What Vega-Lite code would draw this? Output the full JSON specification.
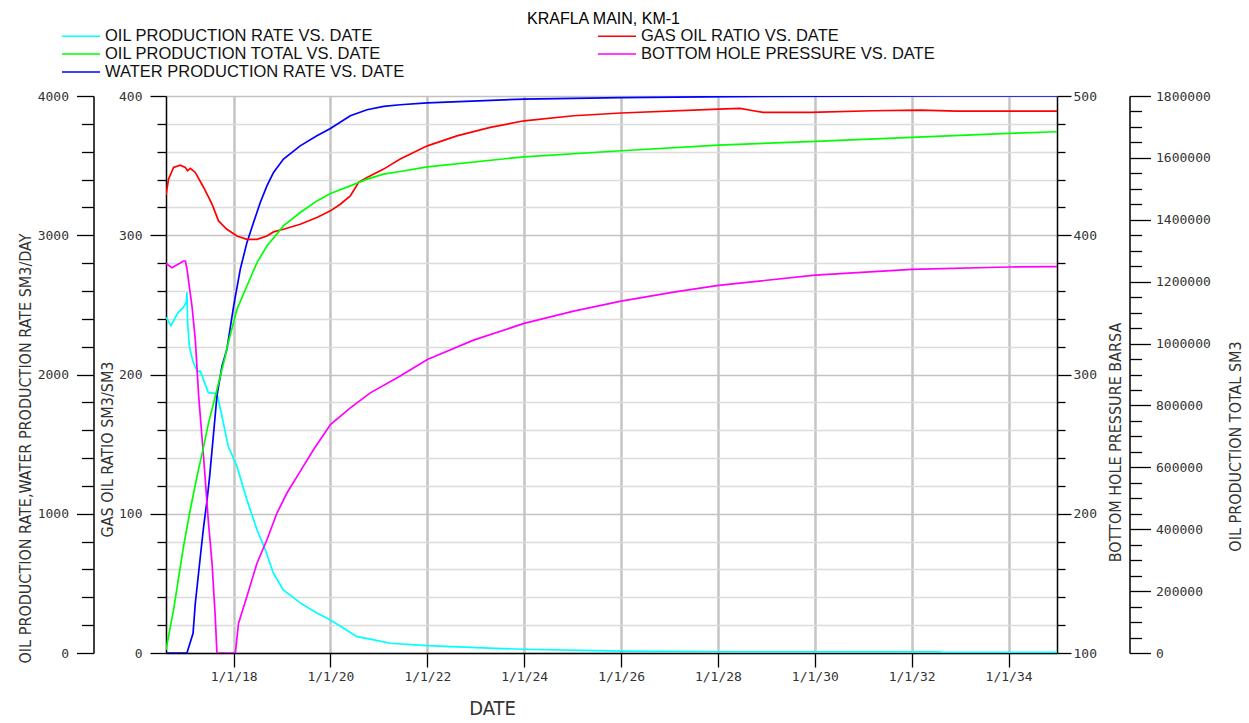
{
  "$schema": "https://vega.github.io/schema/vega-lite/v6.json",
  "width": 891,
  "height": 557,
  "autosize": {"type": "none"},
  "padding": {"left": 166, "top": 96, "right": 192, "bottom": 70},
  "background": "white",
  "title": {"text": "KRAFLA MAIN, KM-1", "anchor": "middle", "frame": "group", "font": "Liberation Sans", "fontSize": 16, "fontWeight": "normal", "color": "#000", "offset": 0, "dy": -1, "dx": -8},
  "data": {"values": [
    {"date": "2016-08-09", "series": "OIL PRODUCTION RATE VS. DATE", "value": 2410},
    {"date": "2016-09-15", "series": "OIL PRODUCTION RATE VS. DATE", "value": 2350},
    {"date": "2016-11-09", "series": "OIL PRODUCTION RATE VS. DATE", "value": 2446},
    {"date": "2016-12-17", "series": "OIL PRODUCTION RATE VS. DATE", "value": 2480},
    {"date": "2017-01-09", "series": "OIL PRODUCTION RATE VS. DATE", "value": 2520},
    {"date": "2017-01-14", "series": "OIL PRODUCTION RATE VS. DATE", "value": 2590},
    {"date": "2017-01-19", "series": "OIL PRODUCTION RATE VS. DATE", "value": 2380},
    {"date": "2017-02-01", "series": "OIL PRODUCTION RATE VS. DATE", "value": 2200},
    {"date": "2017-03-03", "series": "OIL PRODUCTION RATE VS. DATE", "value": 2086},
    {"date": "2017-04-03", "series": "OIL PRODUCTION RATE VS. DATE", "value": 2022},
    {"date": "2017-04-25", "series": "OIL PRODUCTION RATE VS. DATE", "value": 2024},
    {"date": "2017-06-24", "series": "OIL PRODUCTION RATE VS. DATE", "value": 1870},
    {"date": "2017-08-28", "series": "OIL PRODUCTION RATE VS. DATE", "value": 1863},
    {"date": "2017-10-05", "series": "OIL PRODUCTION RATE VS. DATE", "value": 1700},
    {"date": "2017-11-21", "series": "OIL PRODUCTION RATE VS. DATE", "value": 1484},
    {"date": "2018-01-26", "series": "OIL PRODUCTION RATE VS. DATE", "value": 1340},
    {"date": "2018-04-11", "series": "OIL PRODUCTION RATE VS. DATE", "value": 1100},
    {"date": "2018-06-26", "series": "OIL PRODUCTION RATE VS. DATE", "value": 885},
    {"date": "2018-08-28", "series": "OIL PRODUCTION RATE VS. DATE", "value": 741},
    {"date": "2018-10-27", "series": "OIL PRODUCTION RATE VS. DATE", "value": 575},
    {"date": "2019-01-10", "series": "OIL PRODUCTION RATE VS. DATE", "value": 453},
    {"date": "2019-05-18", "series": "OIL PRODUCTION RATE VS. DATE", "value": 360},
    {"date": "2019-09-21", "series": "OIL PRODUCTION RATE VS. DATE", "value": 288},
    {"date": "2020-01-01", "series": "OIL PRODUCTION RATE VS. DATE", "value": 237},
    {"date": "2020-04-07", "series": "OIL PRODUCTION RATE VS. DATE", "value": 180},
    {"date": "2020-07-19", "series": "OIL PRODUCTION RATE VS. DATE", "value": 117},
    {"date": "2020-10-28", "series": "OIL PRODUCTION RATE VS. DATE", "value": 100},
    {"date": "2021-03-27", "series": "OIL PRODUCTION RATE VS. DATE", "value": 70},
    {"date": "2022-01-01", "series": "OIL PRODUCTION RATE VS. DATE", "value": 53},
    {"date": "2023-01-01", "series": "OIL PRODUCTION RATE VS. DATE", "value": 38},
    {"date": "2024-01-01", "series": "OIL PRODUCTION RATE VS. DATE", "value": 27},
    {"date": "2026-01-01", "series": "OIL PRODUCTION RATE VS. DATE", "value": 14},
    {"date": "2028-04-03", "series": "OIL PRODUCTION RATE VS. DATE", "value": 9},
    {"date": "2032-08-03", "series": "OIL PRODUCTION RATE VS. DATE", "value": 8},
    {"date": "2032-08-10", "series": "OIL PRODUCTION RATE VS. DATE", "value": 4},
    {"date": "2035-01-01", "series": "OIL PRODUCTION RATE VS. DATE", "value": 4},

    {"date": "2016-08-09", "series": "WATER PRODUCTION RATE VS. DATE", "value": 0},
    {"date": "2017-01-14", "series": "WATER PRODUCTION RATE VS. DATE", "value": 0},
    {"date": "2017-03-01", "series": "WATER PRODUCTION RATE VS. DATE", "value": 142},
    {"date": "2017-03-18", "series": "WATER PRODUCTION RATE VS. DATE", "value": 357},
    {"date": "2017-04-25", "series": "WATER PRODUCTION RATE VS. DATE", "value": 693},
    {"date": "2017-05-20", "series": "WATER PRODUCTION RATE VS. DATE", "value": 909},
    {"date": "2017-06-15", "series": "WATER PRODUCTION RATE VS. DATE", "value": 1101},
    {"date": "2017-07-04", "series": "WATER PRODUCTION RATE VS. DATE", "value": 1268},
    {"date": "2017-08-03", "series": "WATER PRODUCTION RATE VS. DATE", "value": 1580},
    {"date": "2017-08-28", "series": "WATER PRODUCTION RATE VS. DATE", "value": 1844},
    {"date": "2017-10-05", "series": "WATER PRODUCTION RATE VS. DATE", "value": 2060},
    {"date": "2017-11-11", "series": "WATER PRODUCTION RATE VS. DATE", "value": 2180},
    {"date": "2018-01-01", "series": "WATER PRODUCTION RATE VS. DATE", "value": 2491},
    {"date": "2018-02-20", "series": "WATER PRODUCTION RATE VS. DATE", "value": 2755},
    {"date": "2018-04-11", "series": "WATER PRODUCTION RATE VS. DATE", "value": 2947},
    {"date": "2018-05-31", "series": "WATER PRODUCTION RATE VS. DATE", "value": 3091},
    {"date": "2018-07-21", "series": "WATER PRODUCTION RATE VS. DATE", "value": 3235},
    {"date": "2018-09-09", "series": "WATER PRODUCTION RATE VS. DATE", "value": 3355},
    {"date": "2018-10-29", "series": "WATER PRODUCTION RATE VS. DATE", "value": 3451},
    {"date": "2019-01-12", "series": "WATER PRODUCTION RATE VS. DATE", "value": 3547},
    {"date": "2019-05-18", "series": "WATER PRODUCTION RATE VS. DATE", "value": 3642},
    {"date": "2019-09-21", "series": "WATER PRODUCTION RATE VS. DATE", "value": 3714},
    {"date": "2020-01-01", "series": "WATER PRODUCTION RATE VS. DATE", "value": 3767},
    {"date": "2020-05-30", "series": "WATER PRODUCTION RATE VS. DATE", "value": 3858},
    {"date": "2020-10-03", "series": "WATER PRODUCTION RATE VS. DATE", "value": 3901},
    {"date": "2021-02-05", "series": "WATER PRODUCTION RATE VS. DATE", "value": 3926},
    {"date": "2021-06-10", "series": "WATER PRODUCTION RATE VS. DATE", "value": 3937},
    {"date": "2022-01-01", "series": "WATER PRODUCTION RATE VS. DATE", "value": 3950},
    {"date": "2024-01-01", "series": "WATER PRODUCTION RATE VS. DATE", "value": 3978},
    {"date": "2026-01-01", "series": "WATER PRODUCTION RATE VS. DATE", "value": 3988},
    {"date": "2028-04-03", "series": "WATER PRODUCTION RATE VS. DATE", "value": 3996},
    {"date": "2032-08-03", "series": "WATER PRODUCTION RATE VS. DATE", "value": 4000},
    {"date": "2035-01-01", "series": "WATER PRODUCTION RATE VS. DATE", "value": 4000},

    {"date": "2016-08-09", "series": "GAS OIL RATIO VS. DATE", "value": 328.8},
    {"date": "2016-08-28", "series": "GAS OIL RATIO VS. DATE", "value": 340.3},
    {"date": "2016-10-05", "series": "GAS OIL RATIO VS. DATE", "value": 348.7},
    {"date": "2016-11-24", "series": "GAS OIL RATIO VS. DATE", "value": 350.3},
    {"date": "2017-01-02", "series": "GAS OIL RATIO VS. DATE", "value": 348.7},
    {"date": "2017-01-19", "series": "GAS OIL RATIO VS. DATE", "value": 346.3},
    {"date": "2017-02-08", "series": "GAS OIL RATIO VS. DATE", "value": 348.0},
    {"date": "2017-03-18", "series": "GAS OIL RATIO VS. DATE", "value": 345.1},
    {"date": "2017-05-20", "series": "GAS OIL RATIO VS. DATE", "value": 334.3},
    {"date": "2017-07-22", "series": "GAS OIL RATIO VS. DATE", "value": 322.3},
    {"date": "2017-09-09", "series": "GAS OIL RATIO VS. DATE", "value": 310.3},
    {"date": "2017-11-11", "series": "GAS OIL RATIO VS. DATE", "value": 304.3},
    {"date": "2018-01-26", "series": "GAS OIL RATIO VS. DATE", "value": 299.5},
    {"date": "2018-04-11", "series": "GAS OIL RATIO VS. DATE", "value": 297.1},
    {"date": "2018-06-26", "series": "GAS OIL RATIO VS. DATE", "value": 297.1},
    {"date": "2018-09-09", "series": "GAS OIL RATIO VS. DATE", "value": 299.5},
    {"date": "2018-10-29", "series": "GAS OIL RATIO VS. DATE", "value": 302.4},
    {"date": "2019-01-12", "series": "GAS OIL RATIO VS. DATE", "value": 304.3},
    {"date": "2019-05-18", "series": "GAS OIL RATIO VS. DATE", "value": 307.9},
    {"date": "2019-09-21", "series": "GAS OIL RATIO VS. DATE", "value": 312.7},
    {"date": "2020-01-01", "series": "GAS OIL RATIO VS. DATE", "value": 317.5},
    {"date": "2020-03-15", "series": "GAS OIL RATIO VS. DATE", "value": 322.3},
    {"date": "2020-05-30", "series": "GAS OIL RATIO VS. DATE", "value": 328.3},
    {"date": "2020-07-31", "series": "GAS OIL RATIO VS. DATE", "value": 337.9},
    {"date": "2020-10-03", "series": "GAS OIL RATIO VS. DATE", "value": 341.5},
    {"date": "2021-02-05", "series": "GAS OIL RATIO VS. DATE", "value": 347.5},
    {"date": "2021-06-10", "series": "GAS OIL RATIO VS. DATE", "value": 354.7},
    {"date": "2022-01-01", "series": "GAS OIL RATIO VS. DATE", "value": 364.2},
    {"date": "2022-08-12", "series": "GAS OIL RATIO VS. DATE", "value": 371.4},
    {"date": "2023-04-20", "series": "GAS OIL RATIO VS. DATE", "value": 377.5},
    {"date": "2024-01-01", "series": "GAS OIL RATIO VS. DATE", "value": 382.2},
    {"date": "2025-01-08", "series": "GAS OIL RATIO VS. DATE", "value": 385.8},
    {"date": "2026-01-01", "series": "GAS OIL RATIO VS. DATE", "value": 387.8},
    {"date": "2028-01-05", "series": "GAS OIL RATIO VS. DATE", "value": 390.6},
    {"date": "2028-06-17", "series": "GAS OIL RATIO VS. DATE", "value": 391.1},
    {"date": "2028-09-23", "series": "GAS OIL RATIO VS. DATE", "value": 389.4},
    {"date": "2028-12-08", "series": "GAS OIL RATIO VS. DATE", "value": 388.2},
    {"date": "2029-11-27", "series": "GAS OIL RATIO VS. DATE", "value": 388.2},
    {"date": "2031-03-17", "series": "GAS OIL RATIO VS. DATE", "value": 389.4},
    {"date": "2032-03-06", "series": "GAS OIL RATIO VS. DATE", "value": 389.9},
    {"date": "2032-12-07", "series": "GAS OIL RATIO VS. DATE", "value": 389.2},
    {"date": "2035-01-01", "series": "GAS OIL RATIO VS. DATE", "value": 389.2},

    {"date": "2016-08-09", "series": "BOTTOM HOLE PRESSURE VS. DATE", "value": 379.8},
    {"date": "2016-09-23", "series": "BOTTOM HOLE PRESSURE VS. DATE", "value": 376.7},
    {"date": "2016-12-19", "series": "BOTTOM HOLE PRESSURE VS. DATE", "value": 381.5},
    {"date": "2017-01-02", "series": "BOTTOM HOLE PRESSURE VS. DATE", "value": 381.5},
    {"date": "2017-01-14", "series": "BOTTOM HOLE PRESSURE VS. DATE", "value": 376.0},
    {"date": "2017-02-21", "series": "BOTTOM HOLE PRESSURE VS. DATE", "value": 349.0},
    {"date": "2017-03-18", "series": "BOTTOM HOLE PRESSURE VS. DATE", "value": 325.0},
    {"date": "2017-04-12", "series": "BOTTOM HOLE PRESSURE VS. DATE", "value": 285.0},
    {"date": "2017-05-20", "series": "BOTTOM HOLE PRESSURE VS. DATE", "value": 240.0},
    {"date": "2017-06-24", "series": "BOTTOM HOLE PRESSURE VS. DATE", "value": 195.0},
    {"date": "2017-07-22", "series": "BOTTOM HOLE PRESSURE VS. DATE", "value": 164.7},
    {"date": "2017-08-16", "series": "BOTTOM HOLE PRESSURE VS. DATE", "value": 125.0},
    {"date": "2017-08-28", "series": "BOTTOM HOLE PRESSURE VS. DATE", "value": 100.0},
    {"date": "2018-01-14", "series": "BOTTOM HOLE PRESSURE VS. DATE", "value": 100.0},
    {"date": "2018-02-07", "series": "BOTTOM HOLE PRESSURE VS. DATE", "value": 121.4},
    {"date": "2018-04-11", "series": "BOTTOM HOLE PRESSURE VS. DATE", "value": 140.5},
    {"date": "2018-06-26", "series": "BOTTOM HOLE PRESSURE VS. DATE", "value": 164.5},
    {"date": "2018-09-09", "series": "BOTTOM HOLE PRESSURE VS. DATE", "value": 181.3},
    {"date": "2018-11-24", "series": "BOTTOM HOLE PRESSURE VS. DATE", "value": 200.5},
    {"date": "2019-02-07", "series": "BOTTOM HOLE PRESSURE VS. DATE", "value": 214.9},
    {"date": "2019-05-18", "series": "BOTTOM HOLE PRESSURE VS. DATE", "value": 230.4},
    {"date": "2019-08-26", "series": "BOTTOM HOLE PRESSURE VS. DATE", "value": 246.0},
    {"date": "2020-01-01", "series": "BOTTOM HOLE PRESSURE VS. DATE", "value": 264.0},
    {"date": "2020-05-30", "series": "BOTTOM HOLE PRESSURE VS. DATE", "value": 276.0},
    {"date": "2020-10-28", "series": "BOTTOM HOLE PRESSURE VS. DATE", "value": 286.8},
    {"date": "2021-06-10", "series": "BOTTOM HOLE PRESSURE VS. DATE", "value": 299.0},
    {"date": "2022-01-01", "series": "BOTTOM HOLE PRESSURE VS. DATE", "value": 310.8},
    {"date": "2022-12-15", "series": "BOTTOM HOLE PRESSURE VS. DATE", "value": 324.7},
    {"date": "2024-01-01", "series": "BOTTOM HOLE PRESSURE VS. DATE", "value": 336.7},
    {"date": "2025-01-08", "series": "BOTTOM HOLE PRESSURE VS. DATE", "value": 345.5},
    {"date": "2026-01-01", "series": "BOTTOM HOLE PRESSURE VS. DATE", "value": 352.7},
    {"date": "2027-02-01", "series": "BOTTOM HOLE PRESSURE VS. DATE", "value": 359.2},
    {"date": "2028-01-05", "series": "BOTTOM HOLE PRESSURE VS. DATE", "value": 364.0},
    {"date": "2030-01-04", "series": "BOTTOM HOLE PRESSURE VS. DATE", "value": 371.4},
    {"date": "2032-01-02", "series": "BOTTOM HOLE PRESSURE VS. DATE", "value": 375.5},
    {"date": "2034-01-01", "series": "BOTTOM HOLE PRESSURE VS. DATE", "value": 377.2},
    {"date": "2035-01-01", "series": "BOTTOM HOLE PRESSURE VS. DATE", "value": 377.5},

    {"date": "2016-08-09", "series": "OIL PRODUCTION TOTAL VS. DATE", "value": 10000},
    {"date": "2016-10-05", "series": "OIL PRODUCTION TOTAL VS. DATE", "value": 139200},
    {"date": "2016-12-19", "series": "OIL PRODUCTION TOTAL VS. DATE", "value": 344100},
    {"date": "2017-02-08", "series": "OIL PRODUCTION TOTAL VS. DATE", "value": 463000},
    {"date": "2017-03-31", "series": "OIL PRODUCTION TOTAL VS. DATE", "value": 570800},
    {"date": "2017-05-20", "series": "OIL PRODUCTION TOTAL VS. DATE", "value": 667900},
    {"date": "2017-06-26", "series": "OIL PRODUCTION TOTAL VS. DATE", "value": 743600},
    {"date": "2017-08-16", "series": "OIL PRODUCTION TOTAL VS. DATE", "value": 829800},
    {"date": "2017-09-22", "series": "OIL PRODUCTION TOTAL VS. DATE", "value": 894500},
    {"date": "2017-10-30", "series": "OIL PRODUCTION TOTAL VS. DATE", "value": 959200},
    {"date": "2017-11-11", "series": "OIL PRODUCTION TOTAL VS. DATE", "value": 985000},
    {"date": "2018-01-26", "series": "OIL PRODUCTION TOTAL VS. DATE", "value": 1110400},
    {"date": "2018-04-11", "series": "OIL PRODUCTION TOTAL VS. DATE", "value": 1185900},
    {"date": "2018-06-26", "series": "OIL PRODUCTION TOTAL VS. DATE", "value": 1261600},
    {"date": "2018-09-09", "series": "OIL PRODUCTION TOTAL VS. DATE", "value": 1315400},
    {"date": "2019-01-12", "series": "OIL PRODUCTION TOTAL VS. DATE", "value": 1380100},
    {"date": "2019-05-18", "series": "OIL PRODUCTION TOTAL VS. DATE", "value": 1423500},
    {"date": "2019-09-21", "series": "OIL PRODUCTION TOTAL VS. DATE", "value": 1461000},
    {"date": "2020-01-01", "series": "OIL PRODUCTION TOTAL VS. DATE", "value": 1485000},
    {"date": "2020-05-30", "series": "OIL PRODUCTION TOTAL VS. DATE", "value": 1509600},
    {"date": "2020-10-03", "series": "OIL PRODUCTION TOTAL VS. DATE", "value": 1531300},
    {"date": "2021-02-05", "series": "OIL PRODUCTION TOTAL VS. DATE", "value": 1547500},
    {"date": "2021-06-10", "series": "OIL PRODUCTION TOTAL VS. DATE", "value": 1556000},
    {"date": "2022-01-01", "series": "OIL PRODUCTION TOTAL VS. DATE", "value": 1571200},
    {"date": "2024-01-01", "series": "OIL PRODUCTION TOTAL VS. DATE", "value": 1603500},
    {"date": "2026-01-01", "series": "OIL PRODUCTION TOTAL VS. DATE", "value": 1623000},
    {"date": "2028-01-05", "series": "OIL PRODUCTION TOTAL VS. DATE", "value": 1641400},
    {"date": "2030-01-04", "series": "OIL PRODUCTION TOTAL VS. DATE", "value": 1653300},
    {"date": "2032-01-02", "series": "OIL PRODUCTION TOTAL VS. DATE", "value": 1666300},
    {"date": "2034-01-01", "series": "OIL PRODUCTION TOTAL VS. DATE", "value": 1679200},
    {"date": "2035-01-01", "series": "OIL PRODUCTION TOTAL VS. DATE", "value": 1684400}
  ]},
  "encoding": {
    "x": {
      "field": "date", "type": "temporal",
      "scale": {"type": "utc", "domain": [{"year": 2016, "month": 8, "date": 9, "utc": true}, {"year": 2035, "month": 1, "date": 1, "utc": true}]},
      "axis": {
        "values": [
          {"year": 2018, "month": 1, "date": 1, "utc": true},
          {"year": 2020, "month": 1, "date": 1, "utc": true},
          {"year": 2022, "month": 1, "date": 1, "utc": true},
          {"year": 2024, "month": 1, "date": 1, "utc": true},
          {"year": 2026, "month": 1, "date": 1, "utc": true},
          {"year": 2028, "month": 1, "date": 1, "utc": true},
          {"year": 2030, "month": 1, "date": 1, "utc": true},
          {"year": 2032, "month": 1, "date": 1, "utc": true},
          {"year": 2034, "month": 1, "date": 1, "utc": true}
        ],
        "format": "%-m/%-d/%y",
        "grid": true, "gridColor": "#c4c4c4", "gridWidth": 2.5,
        "tickSize": 14, "labelPadding": 3,
        "title": "DATE", "titleX": 326, "titleY": 55, "titleAlign": "center", "titleBaseline": "middle", "titleFontSize": 20
      }
    },
    "color": {
      "field": "series", "type": "nominal",
      "scale": {
        "domain": ["OIL PRODUCTION RATE VS. DATE", "OIL PRODUCTION TOTAL VS. DATE", "WATER PRODUCTION RATE VS. DATE", "GAS OIL RATIO VS. DATE", "BOTTOM HOLE PRESSURE VS. DATE"],
        "range": ["#00ffff", "#00ff00", "#0000ff", "#ff0000", "#ff00ff"]
      },
      "legend": {
        "title": null, "orient": "none", "legendX": -105, "legendY": -68, "columns": 2,
        "symbolType": "stroke", "symbolSize": 1444, "symbolStrokeWidth": 1.5,
        "labelFont": "Liberation Sans", "labelFontSize": 16.5, "labelColor": "#111", "labelLimit": 0, "labelOffset": 4,
        "columnPadding": 192, "rowPadding": 1, "clipHeight": 16, "padding": 0
      }
    }
  },
  "layer": [
    {
      "transform": [{"filter": "datum.series === 'OIL PRODUCTION RATE VS. DATE' || datum.series === 'WATER PRODUCTION RATE VS. DATE'"}],
      "mark": {"type": "line", "strokeWidth": 1.7, "clip": true},
      "encoding": {
        "y": {
          "field": "value", "type": "quantitative",
          "scale": {"domain": [0, 4000], "nice": false, "zero": false},
          "axis": {
            "orient": "left", "offset": 72.5,
            "values": [0, 200, 400, 600, 800, 1000, 1200, 1400, 1600, 1800, 2000, 2200, 2400, 2600, 2800, 3000, 3200, 3400, 3600, 3800, 4000],
            "format": "d", "labelExpr": "datum.value % 1000 === 0 ? datum.label : ''",
            "tickSize": {"condition": {"test": "datum.value % 1000 === 0", "value": 17}, "value": 12},
            "labelPadding": 8, "grid": false,
            "title": "OIL PRODUCTION RATE,WATER PRODUCTION RATE  SM3/DAY",
            "titleX": -68, "titleY": 352, "titleAngle": 270, "titleAlign": "center", "titleBaseline": "middle"
          }
        }
      }
    },
    {
      "transform": [{"filter": "datum.series === 'GAS OIL RATIO VS. DATE'"}],
      "mark": {"type": "line", "strokeWidth": 1.7, "clip": true},
      "encoding": {
        "y": {
          "field": "value", "type": "quantitative",
          "scale": {"domain": [0, 400], "nice": false, "zero": false},
          "axis": {
            "orient": "left", "offset": 0,
            "values": [0, 20, 40, 60, 80, 100, 120, 140, 160, 180, 200, 220, 240, 260, 280, 300, 320, 340, 360, 380, 400],
            "format": "d", "labelExpr": "datum.value % 100 === 0 ? datum.label : ''",
            "tickSize": {"condition": {"test": "datum.value % 100 === 0", "value": 16}, "value": 9},
            "labelPadding": 8,
            "grid": true,
            "gridColor": {"condition": {"test": "datum.value % 100 === 0", "value": "#c2c2c2"}, "value": "#dcdcdc"},
            "gridWidth": 1.5,
            "title": "GAS OIL RATIO  SM3/SM3",
            "titleX": -59, "titleY": 353, "titleAngle": 270, "titleAlign": "center", "titleBaseline": "middle"
          }
        }
      }
    },
    {
      "transform": [{"filter": "datum.series === 'BOTTOM HOLE PRESSURE VS. DATE'"}],
      "mark": {"type": "line", "strokeWidth": 1.7, "clip": true},
      "encoding": {
        "y": {
          "field": "value", "type": "quantitative",
          "scale": {"domain": [100, 500], "nice": false, "zero": false},
          "axis": {
            "orient": "right", "offset": 0,
            "values": [100, 120, 140, 160, 180, 200, 220, 240, 260, 280, 300, 320, 340, 360, 380, 400, 420, 440, 460, 480, 500],
            "format": "d", "labelExpr": "datum.value % 100 === 0 ? datum.label : ''",
            "tickSize": {"condition": {"test": "datum.value % 100 === 0", "value": 14}, "value": 8},
            "labelPadding": 2, "grid": false,
            "title": "BOTTOM HOLE PRESSURE  BARSA",
            "titleX": 58, "titleY": 346, "titleAngle": 270, "titleAlign": "center", "titleBaseline": "middle"
          }
        }
      }
    },
    {
      "transform": [{"filter": "datum.series === 'OIL PRODUCTION TOTAL VS. DATE'"}],
      "mark": {"type": "line", "strokeWidth": 1.7, "clip": true},
      "encoding": {
        "y": {
          "field": "value", "type": "quantitative",
          "scale": {"domain": [0, 1800000], "nice": false, "zero": false},
          "axis": {
            "orient": "right", "offset": 72.5,
            "values": [0, 50000, 100000, 150000, 200000, 250000, 300000, 350000, 400000, 450000, 500000, 550000, 600000, 650000, 700000, 750000, 800000, 850000, 900000, 950000, 1000000, 1050000, 1100000, 1150000, 1200000, 1250000, 1300000, 1350000, 1400000, 1450000, 1500000, 1550000, 1600000, 1650000, 1700000, 1750000, 1800000],
            "format": "d", "labelExpr": "datum.value % 200000 === 0 ? datum.label : ''",
            "tickSize": {"condition": {"test": "datum.value % 200000 === 0", "value": 21}, "value": 12},
            "labelPadding": 5, "grid": false,
            "title": "OIL PRODUCTION TOTAL  SM3",
            "titleX": 106, "titleY": 350, "titleAngle": 270, "titleAlign": "center", "titleBaseline": "middle"
          }
        }
      }
    }
  ],
  "resolve": {"scale": {"y": "independent"}, "axis": {"y": "independent"}},
  "config": {
    "view": {"stroke": null},
    "axis": {
      "domainColor": "#000", "domainWidth": 1.5, "tickColor": "#000", "tickWidth": 1.3,
      "labelFont": "DejaVu Sans Mono", "labelFontSize": 13, "labelColor": "#333", "labelOverlap": false,
      "titleFont": "Liberation Sans Narrow, DejaVu Sans Condensed, sans-serif", "titleFontSize": 16, "titleFontWeight": "normal", "titleColor": "#333"
    }
  }
}
